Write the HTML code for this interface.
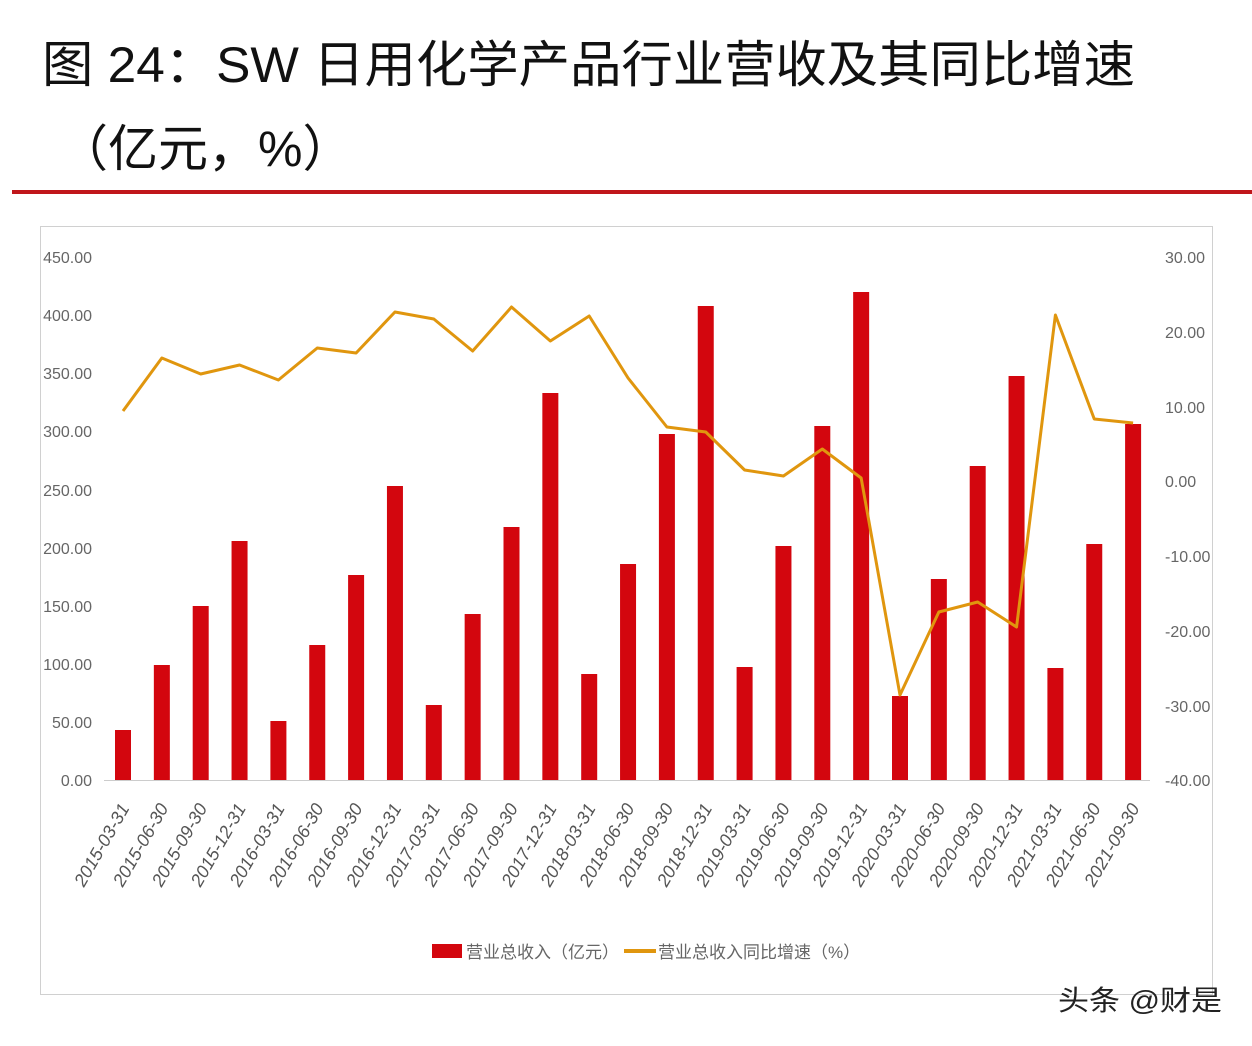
<!DOCTYPE html>
<html><head><meta charset="utf-8"><style>
html,body{margin:0;padding:0;background:#fff;}
svg{display:block;}
</style></head><body>
<svg width="1252" height="1046" xmlns="http://www.w3.org/2000/svg" font-family="Liberation Sans, Noto Sans CJK SC, sans-serif">
<rect width="1252" height="1046" fill="#fff"/>
<text x="42" y="82" font-size="50" textLength="1093" lengthAdjust="spacingAndGlyphs" font-family="Liberation Sans, Noto Sans CJK SC, sans-serif" fill="#111">图 24：SW 日用化学产品行业营收及其同比增速</text>
<text x="58" y="166" font-size="50" fill="#111" font-family="Liberation Sans, Noto Sans CJK SC, sans-serif">（亿元，%）</text>
<rect x="12" y="190" width="1240" height="4" fill="#c0161b"/>
<rect x="40.5" y="226.5" width="1172" height="768" fill="#fff" stroke="#d0d0d0"/>
<g font-size="16" fill="#666" text-anchor="end" font-family="Liberation Sans Narrow, Liberation Sans, sans-serif">
<text x="92" y="263">450.00</text><text x="92" y="321">400.00</text><text x="92" y="379">350.00</text><text x="92" y="437">300.00</text><text x="92" y="496">250.00</text><text x="92" y="554">200.00</text><text x="92" y="612">150.00</text><text x="92" y="670">100.00</text><text x="92" y="728">50.00</text><text x="92" y="786">0.00</text>
</g>
<g font-size="16" fill="#666" text-anchor="start" font-family="Liberation Sans Narrow, Liberation Sans, sans-serif">
<text x="1165" y="263">30.00</text><text x="1165" y="338">20.00</text><text x="1165" y="413">10.00</text><text x="1165" y="487">0.00</text><text x="1165" y="562">-10.00</text><text x="1165" y="637">-20.00</text><text x="1165" y="712">-30.00</text><text x="1165" y="786">-40.00</text>
</g>
<line x1="104" y1="780.5" x2="1150" y2="780.5" stroke="#ccc"/>
<g fill="#d3060e" id="bars"></g>
<polyline id="ln" fill="none" stroke="#e0960e" stroke-width="3" stroke-linejoin="round"/>
<g id="lbl" font-size="18" fill="#555" font-style="italic" text-anchor="end"></g>
<rect x="432" y="944" width="30" height="14" fill="#d3060e"/>
<text x="466" y="958" font-size="17" fill="#666">营业总收入（亿元）</text>
<line x1="624" y1="951" x2="656" y2="951" stroke="#e0960e" stroke-width="4"/>
<text x="658" y="958" font-size="17" fill="#666">营业总收入同比增速（%）</text>
<text x="1058" y="1010" font-size="28" textLength="164" lengthAdjust="spacingAndGlyphs" fill="#222">头条 @财是</text>
<script>
var tops=[730,665,606,541,721,645,575,486,705,614,527,393,674,564,434,306,667,546,426,292,696,579,466,376,668,544,424];
var ly=[411,358,374,365,380,348,353,312,319,351,307,341,316,378,427,432,470,476,449,478,695,612,602,627,315,419,423];
var d=[];for(var y=2015;y<=2021;y++){["03-31","06-30","09-30","12-31"].forEach(function(m){d.push(y+"-"+m);});}
d=d.slice(0,27);
var ns="http://www.w3.org/2000/svg",b=document.getElementById("bars"),l=document.getElementById("lbl"),pts=[];
for(var i=0;i<27;i++){var x=123+i*38.85;
var r=document.createElementNS(ns,"rect");r.setAttribute("x",x-8);r.setAttribute("y",tops[i]);r.setAttribute("width",16);r.setAttribute("height",780-tops[i]);b.appendChild(r);
pts.push(x+","+ly[i]);
var t=document.createElementNS(ns,"text");t.setAttribute("transform","translate("+(x+7)+",808) rotate(-60)");t.textContent=d[i];l.appendChild(t);}
document.getElementById("ln").setAttribute("points",pts.join(" "));
</script>
</svg>
</body></html>
